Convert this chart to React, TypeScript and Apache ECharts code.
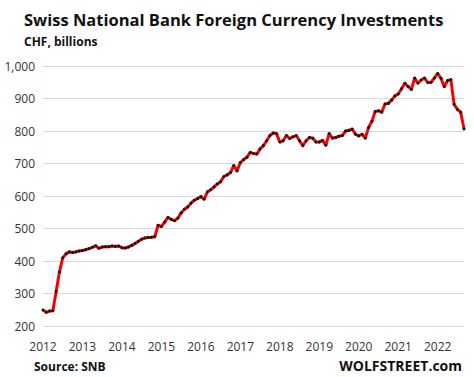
import React, { useEffect, useRef } from "react";
import * as echarts from "echarts";

const years = ["2012", "2013", "2014", "2015", "2016", "2017", "2018", "2019", "2020", "2021", "2022"];
const monthsPerYear = 12;

const v2012 = [249, 242, 246, 247, 306, 366, 410, 422, 428, 426, 428, 431];
const v2013 = [432, 435, 438, 442, 447, 439, 443, 444, 444, 446, 445, 446];
const v2014 = [441, 440, 443, 448, 454, 461, 467, 471, 472, 473, 475, 510];
const v2015 = [506, 520, 534, 528, 524, 532, 548, 559, 566, 578, 587, 592];
const v2016 = [598, 590, 613, 619, 628, 637, 644, 660, 665, 672, 694, 677];
const v2017 = [703, 712, 719, 734, 731, 729, 745, 755, 770, 786, 794, 792];
const v2018 = [766, 770, 786, 777, 782, 786, 770, 755, 770, 780, 778, 766];
const v2019 = [766, 771, 756, 792, 778, 780, 784, 786, 800, 802, 806, 790];
const v2020 = [785, 790, 778, 811, 830, 860, 862, 858, 883, 885, 895, 908];
const v2021 = [914, 930, 947, 937, 928, 963, 947, 957, 963, 949, 950, 963];
const v2022 = [977, 962, 936, 955, 958, 882, 866, 858, 806];

const yearValues = [v2012, v2013, v2014, v2015, v2016, v2017, v2018, v2019, v2020, v2021, v2022];

const yMin = 200;
const yMax = 1000;
const yStep = 100;

const title = "Swiss National Bank Foreign Currency Investments";
const subtitle = "CHF, billions";
const source = "Source: SNB";
const brand = "WOLFSTREET.com";

export default function App() {
  const ref = useRef<HTMLDivElement>(null);
  useEffect(() => {
    if (!ref.current) return;
    const chart = echarts.init(ref.current, null, { renderer: "svg" });
    const categories: string[] = [];
    const values: number[] = [];
    yearValues.forEach((arr, yi) => {
      arr.forEach((v, mi) => {
        categories.push(years[yi] + "-" + String(mi + 1).padStart(2, "0"));
        values.push(v);
      });
    });
    const font = "Open Sans";
    chart.setOption({
      animation: false,
      backgroundColor: "#ffffff",
      textStyle: { fontFamily: font },
      graphic: [
        {
          type: "text",
          left: 24,
          top: 11,
          style: { text: title, font: "bold 16.5px 'Open Sans'", fill: "#111" },
        },
        {
          type: "text",
          left: 24,
          top: 35,
          style: { text: subtitle, font: "bold 12px 'Open Sans'", fill: "#111" },
        },
        {
          type: "text",
          left: 34,
          top: 360,
          style: { text: source, font: "bold 12px 'Open Sans'", fill: "#111" },
        },
        {
          type: "text",
          right: 12,
          top: 358,
          style: { text: brand, font: "bold 14px 'Open Sans'", fill: "#111" },
        },
      ],
      grid: { left: 43, right: 10, top: 66, bottom: 51, containLabel: false },
      xAxis: {
        type: "category",
        data: categories,
        boundaryGap: false,
        axisLine: { show: false },
        axisTick: { show: false },
        splitLine: { show: false },
        axisLabel: {
          interval: (i: number) => i % monthsPerYear === 0,
          formatter: (v: string) => v.slice(0, 4),
          color: "#333",
          fontSize: 12,
          fontFamily: font,
          margin: 14,
        },
      },
      yAxis: {
        type: "value",
        min: yMin,
        max: yMax,
        interval: yStep,
        axisLine: { show: false },
        axisTick: { show: false },
        splitLine: { show: true, lineStyle: { color: "#d9d9d9", width: 1 } },
        axisLabel: {
          color: "#333",
          fontSize: 12,
          fontFamily: font,
          margin: 8,
          formatter: (v: number) => v.toLocaleString("en-US"),
        },
      },
      series: [
        {
          type: "line",
          data: values,
          symbol: "circle",
          symbolSize: 3,
          showSymbol: true,
          showAllSymbol: true,
          itemStyle: { color: "#111", borderWidth: 0 },
          lineStyle: { color: "#ff0000", width: 3 },
        },
      ],
    });
    return () => chart.dispose();
  }, []);
  return (
    <div
      ref={ref}
      style={{ position: "fixed", left: 0, top: 0, width: 474, height: 377 }}
    />
  );
}
